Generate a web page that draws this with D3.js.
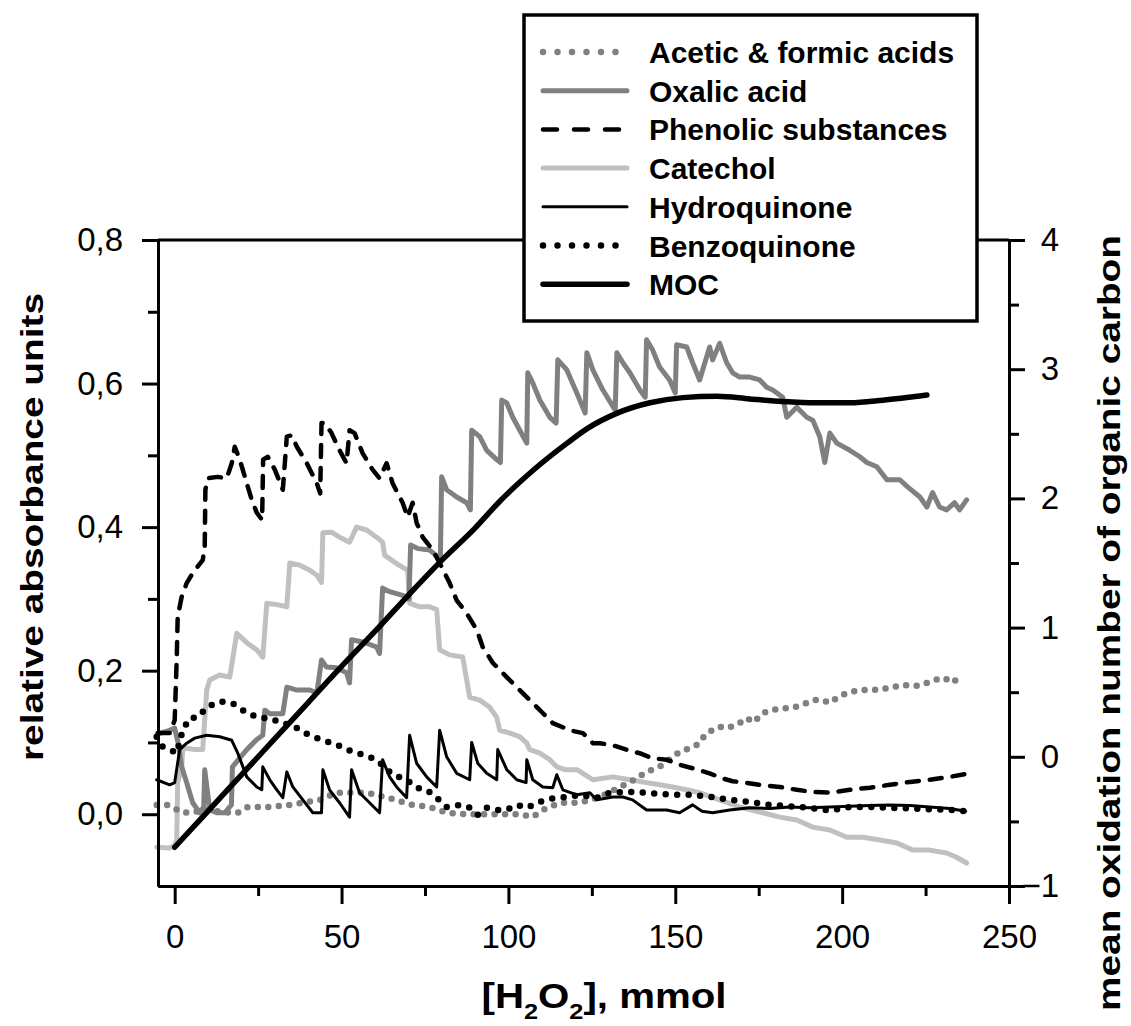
<!DOCTYPE html>
<html>
<head>
<meta charset="utf-8">
<script src="https://cdn.jsdelivr.net/npm/d3@7"></script>
<style>
  body { margin: 0; background: #fff; }
  svg { font-family: "Liberation Sans", Arial, sans-serif; }
</style>
</head>
<body>
<script>
// Oxidation products vs. added H2O2 (left axis: absorbance, right axis: MOC)

const svgWidth = 1131;
const svgHeight = 1026;

const margin = { top: 240, right: 122, bottom: 140, left: 158 };
const width = svgWidth - margin.left - margin.right;
const height = svgHeight - margin.top - margin.bottom;

// ---- data: [mmol H2O2, value] ----
const aceticFormic = [[-5.4,0.013],[-2.1,0.013],[2.4,0.002],[5.4,0.003],[10,0.006],[16.5,0.002],[18.9,0.002],[21.9,0.01],[27.6,0.01],[34.5,0.013],[43.5,0.02],[48.5,0.03],[52.4,0.03],[57.5,0.03],[63.8,0.023],[71.3,0.013],[76.4,0.01],[81.5,0.002],[87.5,0.0],[92.3,0.0],[98.3,0.0],[103.4,0.0],[107.3,-0.004],[110.3,0.006],[115.4,0.016],[121.4,0.016],[127.4,0.024],[131.8,0.034],[137.8,0.048],[141.4,0.059],[145.3,0.066],[151.3,0.087],[154.3,0.092],[156.7,0.097],[159.4,0.113],[163.3,0.122],[165.4,0.12],[168.4,0.124],[171.4,0.134],[173.5,0.128],[176.2,0.141],[178.6,0.145],[181.3,0.147],[184.3,0.148],[187.3,0.151],[191.2,0.159],[193.9,0.159],[196.3,0.155],[198.7,0.163],[201.4,0.169],[205.3,0.173],[208.3,0.173],[211.3,0.174],[214.3,0.176],[218.2,0.18],[222.4,0.179],[225.4,0.183],[227.7,0.187],[230.7,0.19],[232.8,0.183],[235.2,0.19]];

const oxalic = [[-5,0.112],[-2,0.116],[0,0.12],[1,0.1],[2.1,0.066],[3.6,0.044],[5.4,0.016],[7.5,0.002],[8.7,0.01],[9,0.062],[10.5,0.006],[12.6,0.002],[15,0.002],[17,0.013],[17.3,0.066],[21.6,0.09],[24.6,0.104],[26.4,0.11],[27,0.145],[28.5,0.14],[32.4,0.14],[33.6,0.177],[36.6,0.173],[40.5,0.173],[42.6,0.169],[44,0.215],[45.5,0.205],[48.5,0.204],[51.5,0.197],[52.4,0.183],[53,0.243],[56.3,0.24],[60.5,0.233],[61.4,0.224],[62.3,0.315],[64.4,0.31],[68.3,0.305],[70.2,0.3],[70.7,0.375],[73,0.37],[76.4,0.368],[78.5,0.36],[79.6,0.354],[80,0.47],[81.5,0.452],[84.5,0.442],[87.5,0.434],[88.6,0.424],[89,0.535],[91.4,0.526],[93.5,0.507],[96.5,0.494],[97.6,0.49],[98,0.577],[99.5,0.573],[101.3,0.553],[103.4,0.535],[105.5,0.517],[105.8,0.615],[107.3,0.601],[109.4,0.577],[112.4,0.553],[114.3,0.545],[114.8,0.633],[117.5,0.619],[120.5,0.587],[123,0.559],[123.5,0.643],[125.3,0.619],[128.3,0.591],[132,0.563],[132.5,0.643],[134.3,0.629],[136.4,0.615],[139.4,0.591],[141,0.581],[141.4,0.661],[143.2,0.647],[145.3,0.623],[148.3,0.605],[150,0.587],[150.4,0.654],[153.4,0.651],[155.2,0.629],[157.3,0.605],[160.3,0.651],[161.2,0.633],[163.3,0.656],[165.4,0.629],[167.2,0.615],[169.3,0.609],[172.3,0.609],[175.3,0.605],[177.4,0.595],[179.2,0.591],[182.2,0.581],[183.4,0.553],[186.4,0.567],[189.4,0.553],[191.2,0.549],[193.3,0.526],[194.8,0.49],[196.3,0.531],[198.4,0.517],[202.3,0.507],[205.3,0.498],[207.4,0.49],[210.4,0.484],[213.4,0.466],[217.3,0.466],[219.6,0.456],[223.3,0.442],[225.4,0.428],[227.1,0.448],[229.2,0.428],[231.3,0.424],[233.7,0.434],[235.2,0.424],[237.3,0.438]];

const phenolic = [[-5.1,0.113],[-1.5,0.113],[0,0.131],[0.6,0.215],[0.9,0.275],[2.1,0.303],[3.6,0.322],[5.4,0.336],[8.4,0.354],[9,0.372],[9.2,0.452],[9.9,0.468],[12.9,0.47],[15.6,0.468],[17.1,0.489],[18,0.512],[19.5,0.494],[21.6,0.461],[23.1,0.438],[24.6,0.42],[26.2,0.41],[26.5,0.494],[27.9,0.498],[30,0.48],[32.4,0.452],[33.6,0.526],[35.1,0.528],[36.6,0.512],[39.6,0.489],[42.6,0.461],[43.6,0.447],[44,0.545],[45,0.545],[47,0.531],[49.4,0.507],[51.5,0.489],[52.4,0.535],[53.9,0.531],[56.3,0.503],[59.3,0.48],[61.4,0.468],[63.5,0.489],[65.3,0.461],[68.3,0.434],[69.8,0.414],[71.3,0.434],[72.5,0.406],[74.3,0.386],[77.3,0.368],[79.4,0.35],[82.4,0.322],[84.5,0.298],[87.5,0.28],[90.5,0.257],[92.3,0.233],[95.3,0.211],[99.5,0.191],[102.5,0.177],[106.4,0.159],[110.3,0.141],[113.3,0.127],[118.4,0.117],[122.3,0.113],[125.3,0.099],[127.4,0.099],[131.3,0.096],[135.4,0.09],[139.3,0.085],[143.2,0.078],[147.4,0.076],[151.3,0.069],[155.2,0.064],[160.3,0.057],[164,0.05],[167.2,0.046],[171,0.044],[175.3,0.041],[181.3,0.038],[186.4,0.034],[191.2,0.031],[196.3,0.03],[202.3,0.034],[208.3,0.037],[214.3,0.041],[220.3,0.045],[226.2,0.048],[232.2,0.052],[237,0.056]];

const catechol = [[-5.4,-0.046],[-1.5,-0.047],[0,-0.043],[0.6,-0.036],[0.9,0.044],[2.1,0.066],[2.4,0.09],[3.6,0.092],[6,0.09],[8.4,0.09],[9.6,0.173],[10.5,0.187],[13.5,0.194],[16.5,0.191],[18.6,0.252],[21.6,0.239],[24.6,0.229],[26.4,0.219],[27.6,0.294],[30.6,0.292],[33.6,0.289],[34.5,0.35],[37.5,0.347],[40.5,0.34],[42.6,0.333],[44,0.323],[44.4,0.392],[47,0.393],[49.4,0.386],[52.4,0.379],[54.5,0.4],[57.5,0.396],[60.5,0.386],[62.3,0.379],[62.9,0.361],[65.9,0.351],[68.3,0.344],[69.8,0.34],[70.4,0.294],[73.4,0.289],[76.4,0.289],[78.5,0.285],[79.4,0.229],[82.4,0.222],[86.3,0.219],[88.4,0.163],[91.4,0.159],[94.4,0.149],[96.5,0.135],[97.4,0.117],[100.4,0.113],[103.4,0.108],[105.5,0.099],[106.4,0.09],[109.4,0.085],[112.4,0.076],[114.5,0.066],[116.9,0.062],[120.5,0.062],[122.3,0.057],[125.3,0.048],[131.3,0.052],[136.4,0.048],[141.4,0.044],[145.3,0.041],[149.2,0.038],[153.4,0.034],[157.3,0.03],[163.3,0.02],[169.3,0.01],[176.2,0.002],[181.3,-0.004],[186.4,-0.008],[191.2,-0.018],[196.3,-0.022],[201.4,-0.032],[206.2,-0.032],[211.3,-0.036],[216.4,-0.04],[221.2,-0.05],[226.2,-0.05],[231.3,-0.054],[234.3,-0.06],[237.3,-0.068]];

const hydroquinone = [[-5.4,0.048],[-1.5,0.041],[0,0.044],[1.5,0.09],[3.6,0.099],[6,0.106],[9.6,0.11],[13.5,0.108],[17.1,0.103],[18.9,0.085],[21.6,0.052],[24.6,0.038],[26.1,0.034],[26.4,0.066],[28.5,0.048],[30.6,0.034],[32.4,0.023],[33.6,0.059],[35.4,0.038],[38.4,0.02],[41.4,0.002],[44,0.002],[44.4,0.062],[46.4,0.034],[49.4,0.016],[52.4,-0.004],[53,0.062],[55.4,0.03],[58.4,0.016],[61.4,0.002],[62.3,0.076],[64.4,0.052],[66.5,0.038],[69.5,0.023],[70.4,0.11],[72.5,0.071],[75.5,0.052],[78.5,0.038],[79.4,0.117],[81.5,0.08],[84.5,0.057],[88.4,0.048],[89,0.1],[90.8,0.071],[93.5,0.057],[96.5,0.048],[96.8,0.09],[99.5,0.062],[102.5,0.048],[105.3,0.044],[105.5,0.076],[107.3,0.048],[110.3,0.038],[113.3,0.037],[114.5,0.055],[116.3,0.034],[120.5,0.027],[124.4,0.03],[126.5,0.02],[131.3,0.024],[134.3,0.024],[137.2,0.02],[141.4,0.006],[147.4,0.006],[151.3,0.002],[155.2,0.013],[158,0.004],[161.2,0.002],[166.3,0.006],[172.3,0.009],[178.3,0.008],[184.3,0.01],[190.3,0.009],[196.3,0.01],[202.3,0.011],[208.3,0.012],[214.3,0.013],[220.3,0.012],[226.2,0.01],[232.2,0.008],[237,0.004]];

const benzoquinone = [[-5.4,0.108],[-3.6,0.094],[-1.5,0.09],[0.6,0.085],[2.4,0.117],[4.5,0.134],[6.9,0.135],[9.9,0.15],[13.5,0.157],[17.1,0.155],[18.9,0.15],[21.6,0.141],[25.5,0.134],[28.5,0.134],[32.1,0.127],[35.4,0.124],[37.5,0.117],[40.5,0.11],[44.4,0.103],[47.3,0.099],[50,0.094],[53.3,0.087],[56.3,0.083],[60.5,0.076],[65.3,0.055],[69.5,0.048],[72.5,0.037],[75.5,0.034],[78.5,0.023],[81.5,0.01],[85.4,0.013],[88.4,0.009],[90.8,-0.001],[93.5,0.009],[96.5,0.006],[99.5,0.006],[102.5,0.013],[105.8,0.009],[108.5,0.016],[111.5,0.02],[113.9,0.023],[117.5,0.024],[121.4,0.027],[126.5,0.023],[130.4,0.03],[136.4,0.031],[141.4,0.03],[145.3,0.028],[151.3,0.027],[155.2,0.027],[161.2,0.024],[166.3,0.02],[172.3,0.017],[178.3,0.013],[184.3,0.011],[190.3,0.009],[196.3,0.005],[202.3,0.01],[208.3,0.01],[214.3,0.009],[220.3,0.008],[226.2,0.007],[232.2,0.006],[237.3,0.004]];

// mean oxidation number of organic carbon (right axis)
const moc = [[0,-0.70],[10,-0.42],[20,-0.14],[30,0.14],[40,0.42],[50,0.70],[60,0.97],[70,1.25],[80,1.52],[90,1.77],[97.5,1.98],[107.5,2.22],[117.7,2.43],[123.6,2.54],[132.6,2.66],[142.4,2.74],[152.3,2.78],[162.5,2.79],[172.3,2.77],[182.2,2.75],[192.4,2.74],[202.3,2.74],[212.2,2.76],[225.4,2.80]];

const xTicks = [0, 50, 100, 150, 200, 250];
const xMinorTicks = [25, 75, 125, 175, 225];
const yLeftTicks = [0, 0.2, 0.4, 0.6, 0.8];
const yLeftMinorTicks = [0.1, 0.3, 0.5, 0.7];
const yRightTicks = [-1, 0, 1, 2, 3, 4];
const yRightMinorTicks = [-0.5, 0.5, 1.5, 2.5, 3.5];

const legendLabels = ["Acetic & formic acids", "Oxalic acid", "Phenolic substances",
    "Catechol", "Hydroquinone", "Benzoquinone", "MOC"];

// line styles per series
const styles = {
    acetic:  { stroke: "#808080", width: 6.5, dash: "0,10.5", cap: "round" },
    oxalic:  { stroke: "#808080", width: 5,   dash: null,     cap: "round" },
    phenol:  { stroke: "#000",    width: 4.5, dash: "12,11",  cap: "round" },
    catech:  { stroke: "#c0c0c0", width: 5,   dash: null,     cap: "round" },
    hydro:   { stroke: "#000",    width: 3,   dash: null,     cap: "round" },
    benzo:   { stroke: "#000",    width: 6.5, dash: "0,11.5", cap: "round" },
    moc:     { stroke: "#000",    width: 5.5, dash: null,     cap: "round" }
};

let svg = d3.select("body").append("svg")
    .attr("width", svgWidth)
    .attr("height", svgHeight);

let chartGroup = svg.append("g")
    .attr("transform", `translate(${margin.left}, ${margin.top})`);

const xScale = d3.scaleLinear().domain([-5, 250]).range([0, width]);
const yLeft = d3.scaleLinear().domain([-0.1, 0.8]).range([height, 0]);
const yRight = d3.scaleLinear().domain([-1, 4]).range([height, 0]);

function drawSeries(data, yScale, st, curve) {
    const line = d3.line()
        .curve(curve || d3.curveLinear)
        .x(d => xScale(d[0]))
        .y(d => yScale(d[1]));
    const p = chartGroup.append("path")
        .datum(data)
        .attr("d", line)
        .attr("fill", "none")
        .attr("stroke", st.stroke)
        .attr("stroke-width", st.width)
        .attr("stroke-linecap", st.cap)
        .attr("stroke-linejoin", "round");
    if (st.dash) p.attr("stroke-dasharray", st.dash);
    return p;
}

drawSeries(catechol, yLeft, styles.catech);
drawSeries(oxalic, yLeft, styles.oxalic);
drawSeries(aceticFormic, yLeft, styles.acetic);
drawSeries(benzoquinone, yLeft, styles.benzo);
drawSeries(hydroquinone, yLeft, styles.hydro);
drawSeries(phenolic, yLeft, styles.phenol);
drawSeries(moc, yRight, styles.moc, d3.curveMonotoneX);

// ---- axes ----
const commaFmt = d => d3.format(".1f")(d).replace(".", ",");

function styleAxis(g) {
    g.selectAll("path").attr("stroke", "#000").attr("stroke-width", 3);
    g.selectAll("line").attr("stroke", "#000").attr("stroke-width", 3);
    g.selectAll("text").attr("fill", "#000")
        .style("font-size", "33px")
        .style("font-family", "'Liberation Sans', Arial, sans-serif");
}

// bottom
chartGroup.append("g")
    .attr("transform", `translate(0, ${height})`)
    .call(d3.axisBottom(xScale).tickValues(xMinorTicks).tickSize(10).tickSizeOuter(0).tickFormat(""))
    .call(styleAxis);
chartGroup.append("g")
    .attr("transform", `translate(0, ${height})`)
    .call(d3.axisBottom(xScale).tickValues(xTicks).tickSize(18).tickSizeOuter(0).tickPadding(21).tickFormat(d3.format("d")))
    .call(styleAxis);

// left
chartGroup.append("g")
    .call(d3.axisLeft(yLeft).tickValues(yLeftMinorTicks).tickSize(10).tickSizeOuter(0).tickFormat(""))
    .call(styleAxis);
chartGroup.append("g")
    .call(d3.axisLeft(yLeft).tickValues(yLeftTicks).tickSize(16).tickSizeOuter(0).tickPadding(19).tickFormat(commaFmt))
    .call(styleAxis);

// right
chartGroup.append("g")
    .attr("transform", `translate(${width}, 0)`)
    .call(d3.axisRight(yRight).tickValues(yRightMinorTicks).tickSize(10).tickSizeOuter(0).tickFormat(""))
    .call(styleAxis);
let rightAxis = chartGroup.append("g")
    .attr("transform", `translate(${width}, 0)`)
    .call(d3.axisRight(yRight).tickValues(yRightTicks).tickSize(16).tickSizeOuter(0).tickFormat(d3.format("d")))
    .call(styleAxis);
rightAxis.selectAll("text")
    .attr("text-anchor", "end")
    .attr("x", 50);

// top border
chartGroup.append("line")
    .attr("x1", 0).attr("x2", width)
    .attr("y1", 0).attr("y2", 0)
    .attr("stroke", "#000")
    .attr("stroke-width", 3);

// ---- axis titles ----
svg.append("text")
    .attr("transform", "translate(43, 527) rotate(-90)")
    .attr("text-anchor", "middle")
    .attr("font-weight", "bold")
    .attr("font-size", 31)
    .attr("textLength", 468)
    .attr("lengthAdjust", "spacingAndGlyphs")
    .text("relative absorbance units");

svg.append("text")
    .attr("transform", "translate(1120, 623) rotate(-90)")
    .attr("text-anchor", "middle")
    .attr("font-weight", "bold")
    .attr("font-size", 31)
    .attr("textLength", 776)
    .attr("lengthAdjust", "spacingAndGlyphs")
    .text("mean oxidation number of organic carbon");

let xTitle = svg.append("text")
    .attr("x", 604)
    .attr("y", 1008)
    .attr("text-anchor", "middle")
    .attr("font-weight", "bold")
    .attr("font-size", 35)
    .attr("textLength", 245)
    .attr("lengthAdjust", "spacingAndGlyphs");
xTitle.append("tspan").text("[H");
xTitle.append("tspan").attr("font-size", 22).attr("dy", 11).text("2");
xTitle.append("tspan").attr("dy", -11).text("O");
xTitle.append("tspan").attr("font-size", 22).attr("dy", 11).text("2");
xTitle.append("tspan").attr("dy", -11).text("], mmol");

// ---- legend ----
const legendStyles = [styles.acetic, styles.oxalic, styles.phenol, styles.catech,
    styles.hydro, styles.benzo, styles.moc];

let legend = svg.append("g");
legend.append("rect")
    .attr("x", 524).attr("y", 15)
    .attr("width", 453).attr("height", 306)
    .attr("fill", "#fff")
    .attr("stroke", "#000")
    .attr("stroke-width", 3.5);

legendLabels.forEach((label, i) => {
    const yy = 52 + i * 38.7;
    const st = legendStyles[i];
    const l = legend.append("line")
        .attr("x1", 543).attr("x2", 627)
        .attr("y1", yy).attr("y2", yy)
        .attr("stroke", st.stroke)
        .attr("stroke-width", st.width)
        .attr("stroke-linecap", "round");
    if (st.dash) {
        l.attr("stroke-dasharray", st.dash.startsWith("0") ? "0,14.5" : "14,17");
    }
    legend.append("text")
        .attr("x", 649)
        .attr("y", yy + 11)
        .attr("font-weight", "bold")
        .attr("font-size", 30)
        .text(label);
});
</script>
</body>
</html>
